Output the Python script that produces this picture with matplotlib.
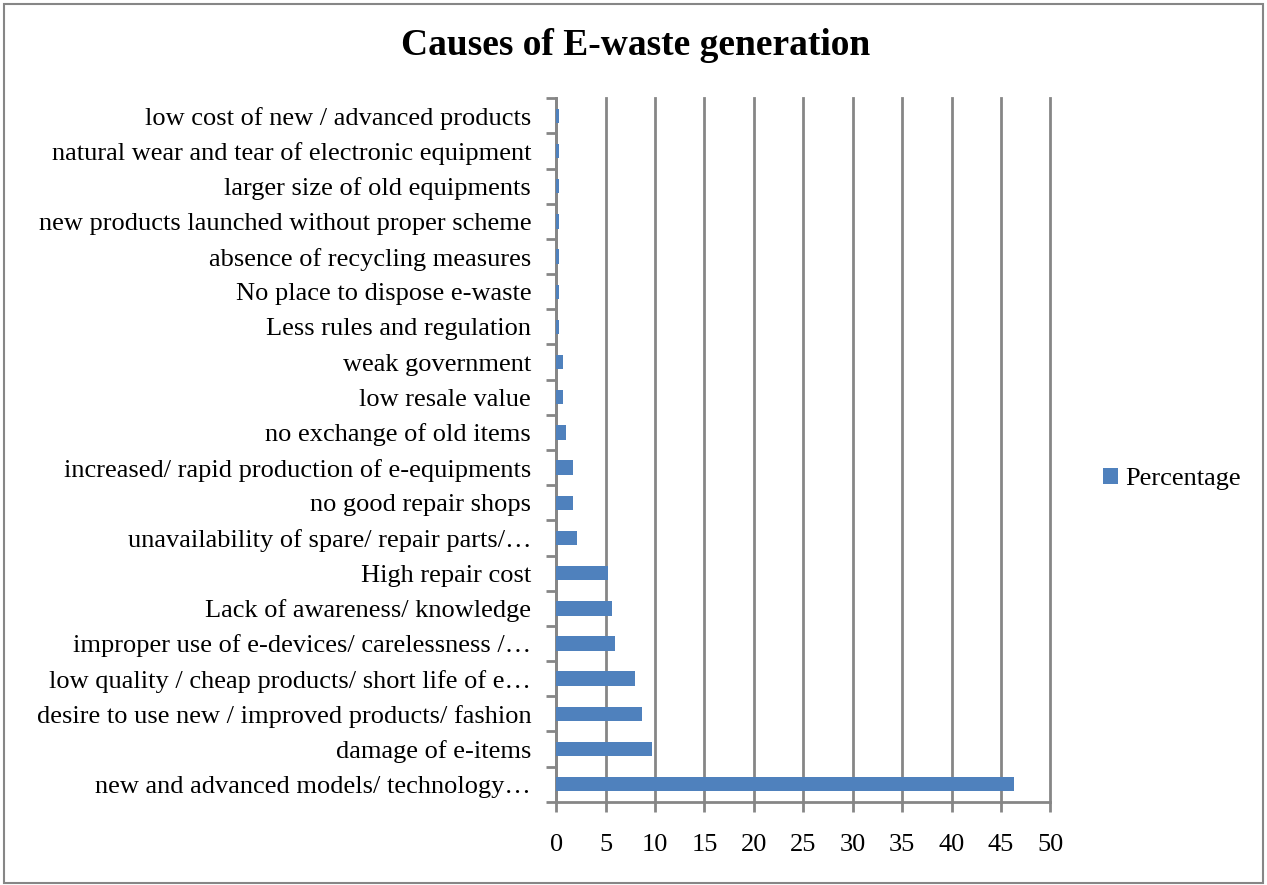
import numpy as np
import matplotlib.pyplot as plt

plt.rcParams['font.family'] = ['Liberation Serif', 'DejaVu Serif']

# bottom to top, as drawn on the axis
causes = ['new and advanced models/ technology…',
          'damage of e-items',
          'desire to use new / improved products/ fashion',
          'low quality / cheap products/ short life of e…',
          'improper use of e-devices/ carelessness /…',
          'Lack of awareness/ knowledge',
          'High repair cost',
          'unavailability of spare/ repair parts/…',
          'no good repair shops',
          'increased/ rapid production of e-equipments',
          'no exchange of old items',
          'low resale value',
          'weak government',
          'Less rules and regulation',
          'No place to dispose e-waste',
          'absence of recycling measures',
          'new products launched without proper scheme',
          'larger size of old equipments',
          'natural wear and tear of electronic equipment',
          'low cost of new / advanced products']
percentage = [46.3, 9.7, 8.7, 8.0, 5.9, 5.6, 5.2, 2.1, 1.7, 1.7,
              1.0, 0.7, 0.7, 0.3, 0.3, 0.3, 0.3, 0.3, 0.3, 0.3]

grid_col = '#868686'
bar_col = '#4f81bd'

fig = plt.figure(figsize=(12.67, 8.85), dpi=100)
ax = fig.add_axes([0.439, 0.094, 0.39, 0.795])

y = np.arange(len(causes))
ax.barh(y, percentage, height=0.41, color=bar_col, label='Percentage', zorder=3)

ax.set_xlim(0, 50)
ax.set_ylim(-0.5, len(causes) - 0.5)
ax.set_xticks(np.arange(0, 51, 5))
ax.set_yticks(y)
ax.set_yticklabels(causes)
ax.set_yticks(np.arange(-0.5, len(causes), 1), minor=True)
ax.tick_params(axis='y', which='major', length=0, pad=18, labelsize=19)
ax.tick_params(axis='y', which='minor', length=7, width=2, color=grid_col)
ax.tick_params(axis='x', length=7, width=2, color=grid_col, pad=16, labelsize=19)

ax.grid(axis='x', color=grid_col, linewidth=2, zorder=0)
for gl in ax.get_xgridlines():
    gl.set_clip_on(False)
for side in ['top', 'right']:
    ax.spines[side].set_visible(False)
for side in ['left', 'bottom']:
    ax.spines[side].set_color(grid_col)
    ax.spines[side].set_linewidth(2)

fig.suptitle('Causes of E-waste generation', x=0.502, y=0.968,
             fontsize=27, fontweight='bold')

fig.legend(loc='center left', bbox_to_anchor=(0.852, 0.459), frameon=False,
           fontsize=19, handlelength=0.55, handleheight=0.55, handletextpad=0.3)

# outer frame of the chart area
fig.patches.append(plt.Rectangle((0.003, 0.002), 0.994, 0.994, transform=fig.transFigure,
                                 fill=False, edgecolor=grid_col, linewidth=1.5))

fig.savefig('out.png', dpi=100)
